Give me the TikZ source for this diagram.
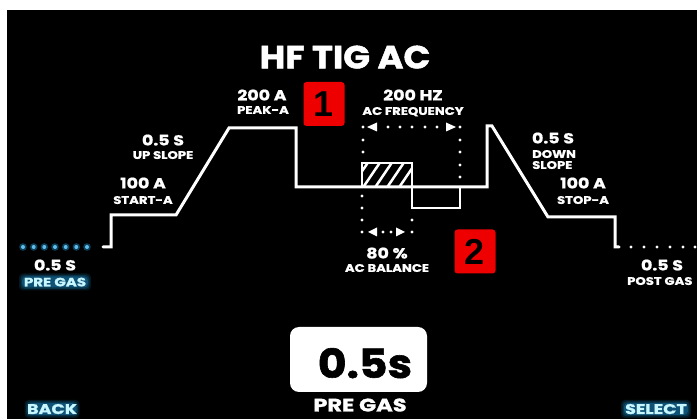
\documentclass[tikz,border=0pt]{standalone}
\usepackage{fontspec}
\setmainfont{Poppins}[FakeBold=1.2]
\newfontfamily\lblfont{Poppins}[FakeStretch=1.2, FakeBold=1.2]
\newfontfamily\widefont{Poppins}[FakeStretch=1.1, FakeBold=1.5]
\newfontfamily\keyfont{Poppins}[FakeStretch=1.25, FakeBold=1.5]
\newfontfamily\numfont{Liberation Sans}
\definecolor{glowc}{HTML}{1E9FE0}
\definecolor{glowtxt}{HTML}{C8F6FF}
\definecolor{badgered}{HTML}{EE0000}
\tikzset{
  valtxt/.style={text=white, inner sep=0pt, text depth=0pt, font=\lblfont\bfseries\fontsize{14.5}{14.5}\selectfont},
  captxt/.style={text=white, inner sep=0pt, text depth=0pt, font=\lblfont\bfseries\fontsize{11}{11}\selectfont},
  wave/.style={draw=white, line width=3pt, line cap=round, line join=miter},
  boxline/.style={draw=white, line width=2.5pt},
  wdot/.style={circle, fill=white, inner sep=0pt, minimum size=3.4pt},
  badge/.style={fill=badgered, rounded corners=3pt, minimum width=41pt, minimum height=44pt, inner sep=0pt,
    text=black, font=\numfont\bfseries\fontsize{36}{36}\selectfont},
  glowtop/.style={text=glowtxt, inner sep=0pt, text depth=0pt},
}
% soft cyan halo behind a text: nested rounded rectangles of low opacity
\newcommand\halo[3]{% centre, width, height
  \foreach \gs/\go in {4/0.15,2.5/0.2,1/0.3}{%
    \fill[glowc, opacity=\go, rounded corners=4pt]
      ($(#1)+(-#2/2-\gs,-#3/2-\gs)$) rectangle ($(#1)+(#2/2+\gs,#3/2+\gs)$);}}
\usetikzlibrary{calc}
\begin{document}
\begin{tikzpicture}[x=1pt, y=-1pt]
\useasboundingbox (0,0) rectangle (697,419);
\fill[white] (0,0) rectangle (697,419);
\fill[black] (7,10) rectangle (697,419);

% title
\node[text=white, inner sep=0pt, text depth=0pt, font=\widefont\bfseries\fontsize{32}{32}\selectfont] (title) at (345,57) {HF TIG AC};

% waveform
\draw[wave] (103,247) -- (111,247) -- (111,215) -- (176,215) -- (229,128) -- (296,128) -- (296,187)
  -- (487,187) -- (487,126) -- (492,126) -- (548,217) -- (615,217) -- (615,247) -- (619,247);

% AC boxes
\begin{scope}
  \clip (362,163) rectangle (412,187);
  \foreach \hx in {350,362,374,386,398,410}{\draw[white, line width=2.5pt] (\hx,189) -- (\hx+19,161);}
\end{scope}
\draw[boxline] (362,187) -- (362,163) -- (412,163) -- (412,208) -- (460,208) -- (460,187);

% frequency markers
\foreach \px in {363,388,400,412,425,437,460}{\node[wdot] at (\px,127) {};}
\fill[white] (367,127) -- (377,122.5) -- (377,131.5) -- cycle;
\fill[white] (456,127) -- (446,122.5) -- (446,131.5) -- cycle;
\foreach \py in {140,152}{\node[wdot] at (363,\py) {};}
\foreach \py in {140,152,165,177}{\node[wdot] at (460,\py) {};}

% balance markers
\foreach \py in {196,208,220,232}{\node[wdot] at (362,\py) {};}
\foreach \py in {220,232}{\node[wdot] at (412,\py) {};}
\foreach \px in {383,391}{\node[wdot] at (\px,232) {};}
\fill[white] (368,232) -- (377,227.5) -- (377,236.5) -- cycle;
\fill[white] (405,232) -- (396,227.5) -- (396,236.5) -- cycle;

% pre gas dots (cyan)
\foreach \px in {23,33.7,44.3,55,65.7,76.3,87}{
  \fill[glowc, opacity=0.4] (\px,247) circle (3.8pt);
  \fill[glowc!70!white] (\px,247) circle (2pt);}
% post gas dots
\foreach \px in {631,644,657,670,683,695}{\node[wdot] at (\px,247) {};}

% labels
\node[valtxt] (peakv) at (262,95) {200 A};
\node[captxt] (peakc) at (263,110) {PEAK-A};
\node[valtxt] (freqv) at (413,95) {200 HZ};
\node[captxt] (freqc) at (413,111) {AC FREQUENCY};
\node[valtxt] (upv) at (163,140) {0.5 S};
\node[captxt] (upc) at (163,155) {UP SLOPE};
\node[valtxt] (startv) at (143,183) {100 A};
\node[captxt] (startc) at (143,200) {START-A};
\node[valtxt] (prev) at (55,265) {0.5 S};
\halo{55,282}{64}{9}
\node[glowtop, font=\keyfont\bfseries\fontsize{12}{12}\selectfont] (prec) at (55,282) {PRE GAS};
\node[valtxt] (downv) at (553,138) {0.5 S};
\node[captxt, anchor=west] (downc) at (532,154) {DOWN};
\node[captxt, anchor=west] (downc2) at (532,165) {SLOPE};
\node[valtxt] (stopv) at (583,183) {100 A};
\node[captxt] (stopc) at (583,200) {STOP-A};
\node[valtxt] (postv) at (662,265) {0.5 S};
\node[captxt, anchor=west] (postc) at (627,281) {POST GAS};
\node[valtxt] (balv) at (387,253) {80 \%};
\node[captxt] (balc) at (387,268) {AC BALANCE};

% badges
\node[badge] (b1) at (324,104) {1};
\node[badge] (b2) at (475,251.5) {2};

% value box
\node[fill=white, rounded corners=9pt, minimum width=137pt, minimum height=65pt, inner sep=0pt] (vbox) at (358.5,359.5) {};
\node[text=black, inner sep=0pt, text depth=0pt, font=\widefont\bfseries\fontsize{40}{40}\selectfont] (vtext) at (365,363) {0.5s};
\node[text=white, inner sep=0pt, text depth=0pt, font=\keyfont\bfseries\fontsize{18}{18}\selectfont] (vlabel) at (360,405) {PRE GAS};

% soft keys
\halo{52,409}{47}{10}
\node[glowtop, font=\keyfont\bfseries\fontsize{14}{14}\selectfont] (back) at (52,409) {BACK};
\halo{656,409}{62}{10}
\node[glowtop, font=\keyfont\bfseries\fontsize{14}{14}\selectfont] (select) at (656,409) {SELECT};
\end{tikzpicture}
\end{document}
